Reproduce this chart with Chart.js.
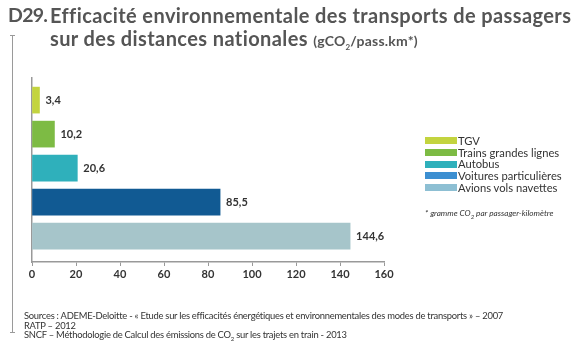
<!DOCTYPE html>
<html><head><meta charset="utf-8">
<script src="https://cdn.jsdelivr.net/npm/chart.js@4"></script>
<style>
html,body{margin:0;padding:0;background:#fff;}
#wrap{position:relative;width:580px;height:347px;overflow:hidden;font-family:Lato,"Open Sans",sans-serif;}
canvas{position:absolute;left:0;top:0;}
.t{position:absolute;color:#555;font-weight:bold;white-space:nowrap;font-family:Lato,sans-serif;}
#vline{position:absolute;left:12px;top:35px;width:1px;height:298px;background:#9a9a9a;}
#vline:before,#vline:after{content:"";position:absolute;left:-2px;width:5px;height:1px;background:#9a9a9a;}
#vline:before{top:0}#vline:after{bottom:0}
#legend{position:absolute;left:425px;top:135px;font-size:11.2px;color:#333;line-height:11.7px;}
#legend div{white-space:nowrap;display:flex;align-items:center;}
#legend span.sw{display:inline-block;width:32px;height:7px;margin-right:1px;}
#note{position:absolute;left:425px;top:208px;font-size:8.2px;font-style:italic;color:#333;white-space:nowrap;}
#src{position:absolute;left:24px;top:311px;font-size:9.4px;color:#333;line-height:9.7px;white-space:nowrap;letter-spacing:-0.25px;}
</style></head>
<body><div id="wrap">
<canvas id="c" width="580" height="347"></canvas>
<div class="t" style="left:8px;top:3px;font-size:19.5px;letter-spacing:-0.7px;">D29.</div>
<div class="t" style="left:50px;top:3px;font-size:20px;letter-spacing:0.4px;">Efficacité environnementale des transports de passagers</div>
<div class="t" style="left:50px;top:26px;font-size:20px;letter-spacing:0.4px;">sur des distances nationales <span style="font-size:14px;letter-spacing:0.2px;">(gCO<sub style="font-size:8px;">2</sub>/pass.km*)</span></div>
<div id="vline"></div>
<div id="legend"></div>
<div id="note">* gramme CO<sub style="font-size:6px;">2</sub> par passager-kilomètre</div>
<div id="src">Sources : ADEME-Deloitte - « Etude sur les efficacités énergétiques et environnementales des modes de transports » – 2007<br>RATP – 2012<br>SNCF – Méthodologie de Calcul des émissions de CO<sub style="font-size:6px;">2</sub> sur les trajets en train - 2013</div>
</div>
<script>
const categories = ['TGV','Trains grandes lignes','Autobus','Voitures particulières','Avions vols navettes'];
const values = [3.4, 10.2, 20.6, 85.5, 144.6];
const valueLabels = ['3,4','10,2','20,6','85,5','144,6'];
const xTicks = [0,20,40,60,80,100,120,140,160];
const barColors = ['#c3d43f','#7dbb44','#2fb0bb','#115a93','#a6c5ca'];
const legendColors = ['#c3d43f','#7dbb44','#2fb0bb','#3c8fd1','#8dbfd3'];

const legend = document.getElementById('legend');
categories.forEach((c,i)=>{
  const d=document.createElement('div');
  d.innerHTML='<span class="sw" style="background:'+legendColors[i]+'"></span>'+c;
  legend.appendChild(d);
});

const datasets = categories.map((c,i)=>({
  label:c,
  data:[{x:values[i], y:i}],
  backgroundColor:barColors[i],
  barThickness:26,
  grouped:false
}));

const labelPlugin = {
  id:'vlabels',
  afterDatasetsDraw(chart){
    const ctx=chart.ctx;
    ctx.save();
    ctx.font='bold 11px Lato, sans-serif';
    ctx.fillStyle='#333';
    ctx.textBaseline='middle';
    chart.data.datasets.forEach((ds,i)=>{
      const el=chart.getDatasetMeta(i).data[0];
      ctx.fillText(valueLabels[i], el.x+6, el.y);
    });
    ctx.restore();
  }
};

new Chart(document.getElementById('c'),{
  type:'bar',
  data:{datasets},
  options:{
    indexAxis:'y',
    responsive:false,
    animation:false,
    layout:{padding:{left:32,top:78,right:196,bottom:65}},
    plugins:{legend:{display:false},tooltip:{enabled:false}},
    scales:{
      x:{type:'linear',min:0,max:160,
        afterBuildTicks(s){s.ticks=xTicks.map(v=>({value:v}));},
        afterFit(s){s.height=20;},
        border:{color:'#999',width:1.5},
        grid:{drawOnChartArea:false,drawTicks:true,tickLength:4,color:'#999'},
        ticks:{color:'#333',font:{family:'Lato',size:11,weight:'bold'},padding:2,autoSkip:false,maxRotation:0}
      },
      y:{type:'linear',reverse:true,min:-0.65,max:4.76,offset:false,
        afterFit(s){s.width=0;},
        border:{color:'#999',width:1.5},
        grid:{display:false},
        ticks:{display:false}
      }
    }
  },
  plugins:[labelPlugin]
});
</script>
</body></html>
